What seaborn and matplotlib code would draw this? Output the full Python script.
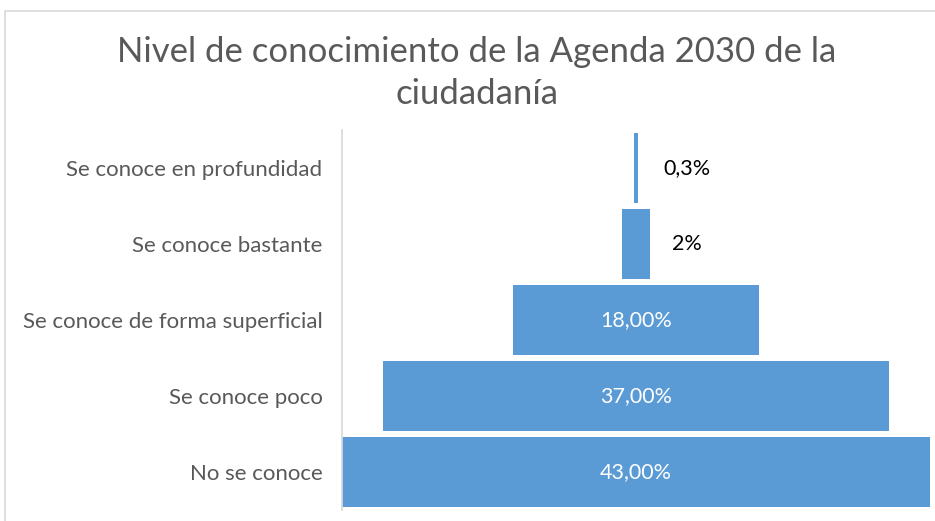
# plot.py
# Funnel chart: Nivel de conocimiento de la Agenda 2030 de la ciudadanía

import numpy as np
import pandas as pd
import matplotlib
matplotlib.use("Agg")
import matplotlib.pyplot as plt
from matplotlib.patches import Rectangle
import seaborn as sns

# ── Data ──────────────────────────────────────────────────────────────────────
categories = ["Se conoce en profundidad", "Se conoce bastante",
              "Se conoce de forma superficial", "Se conoce poco", "No se conoce"]
values = [0.3, 2, 18, 37, 43]
value_labels = ["0,3%", "2%", "18,00%", "37,00%", "43,00%"]
title = "Nivel de conocimiento de la Agenda 2030 de la\nciudadanía"

BAR = "#5B9BD5"
GREY = "#595959"

sns.set_theme(style="white")
plt.rcParams["font.family"] = ["Lato", "DejaVu Sans"]

df = pd.DataFrame({"cat": categories, "half": np.array(values) / 2})

fig = plt.figure(figsize=(9.35, 5.21), dpi=100)
ax = fig.add_axes([342 / 935, 1 - 510 / 521, (930 - 342) / 935, 380 / 521])

# funnel = two mirrored halves around zero
sns.barplot(data=df, x="half", y="cat", color=BAR, saturation=1, width=0.93,
            orient="h", ax=ax, linewidth=0)
df_neg = df.assign(half=-df["half"])
sns.barplot(data=df_neg, x="half", y="cat", color=BAR, saturation=1, width=0.93,
            orient="h", ax=ax, linewidth=0)

half_max = max(values) / 2
ax.set_xlim(-half_max, half_max)
ax.set_xlabel("")
ax.set_ylabel("")
ax.set_xticks([])
ax.tick_params(axis="y", length=0, pad=14, labelsize=16, labelcolor=GREY)

for s in ["top", "right", "bottom"]:
    ax.spines[s].set_visible(False)
ax.spines["left"].set_color("#D9D9D9")
ax.spines["left"].set_linewidth(1.2)

# small values get their label outside, to the right
for i, (v, lab) in enumerate(zip(values, value_labels)):
    if v < 5:
        ax.text(3.7, i, lab, ha="center", va="center", fontsize=15.5, color="black")
    else:
        ax.text(0, i, lab, ha="center", va="center", fontsize=15.5, color="white")

fig.text(477 / 935, 1 - 73 / 521, title, ha="center", va="center", fontsize=25,
         color=GREY, linespacing=1.42)

# outer chart frame
fig.patches.append(Rectangle((5 / 935, -0.02), 1.0, 1 - 11 / 521 + 0.02,
                             transform=fig.transFigure, fill=False,
                             edgecolor="#D9D9D9", linewidth=1.2))

fig.savefig("out.png", dpi=100)
